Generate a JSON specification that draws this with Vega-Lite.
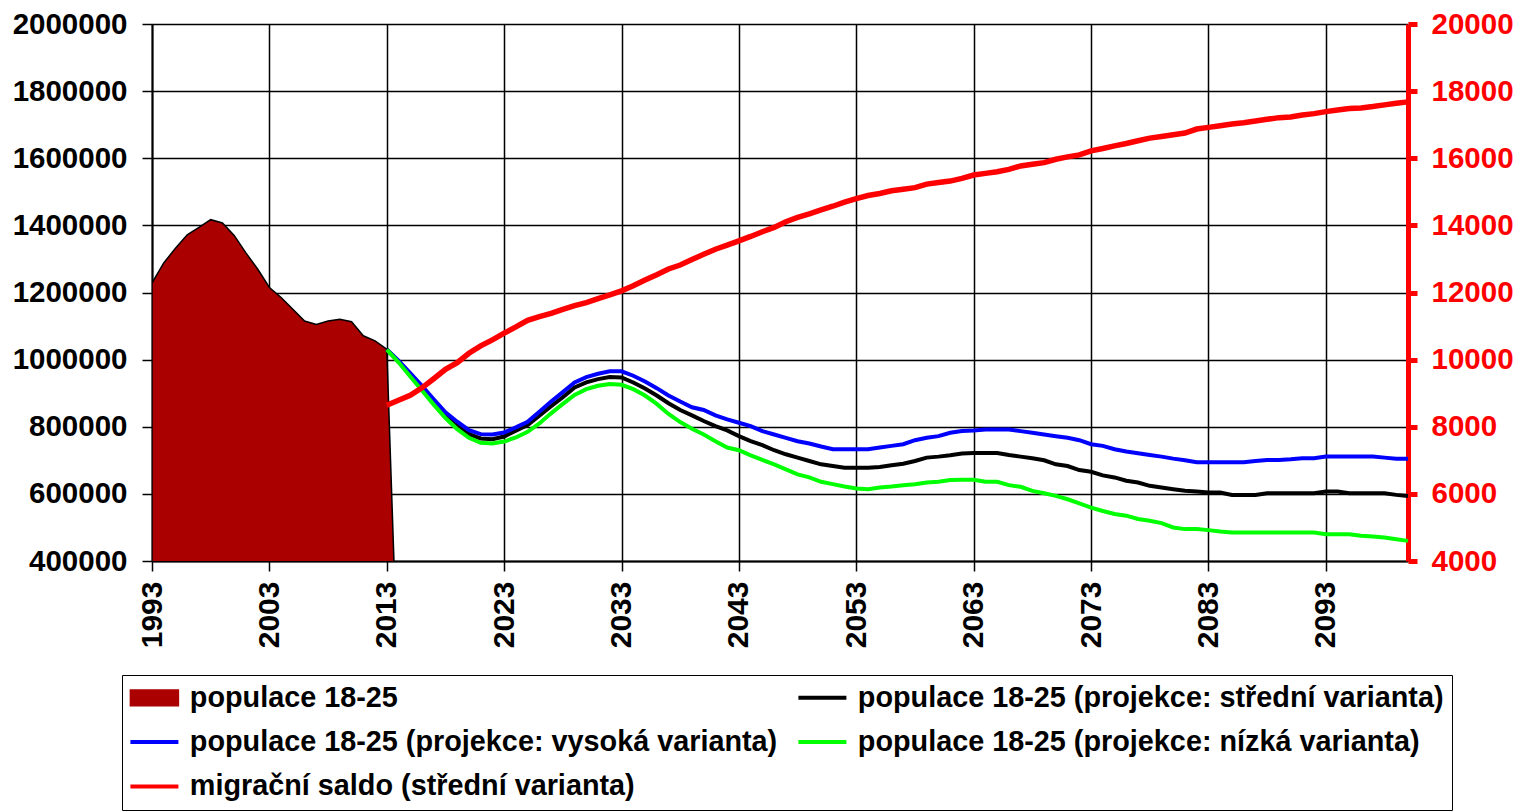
{
  "$schema": "https://vega.github.io/schema/vega-lite/v6.json",
  "width": 1256,
  "height": 537,
  "autosize": {"type": "none"},
  "padding": {"left": 152, "top": 24, "right": 113, "bottom": 250},
  "background": "white",
  "config": {
    "view": {"stroke": null},
    "font": "Liberation Sans",
    "axis": {"labelFont": "Liberation Sans", "labelFontWeight": "bold", "labelColor": "black"}
  },
  "datasets": {
    "area": [
      {"t":1993,"v":1228000},{"t":1994,"v":1288000},{"t":1995,"v":1332000},{"t":1996,"v":1372000},{"t":1997,"v":1394000},
      {"t":1998,"v":1417000},{"t":1999,"v":1407000},{"t":2000,"v":1370000},{"t":2001,"v":1318000},{"t":2002,"v":1270000},
      {"t":2003,"v":1215000},{"t":2004,"v":1185000},{"t":2005,"v":1150000},{"t":2006,"v":1115000},{"t":2007,"v":1105000},
      {"t":2008,"v":1115000},{"t":2009,"v":1120000},{"t":2010,"v":1113000},{"t":2011,"v":1071000},{"t":2012,"v":1056000},
      {"t":2013,"v":1031000},{"t":2014,"v":0}
    ],
    "mid": [
      {"t":2013,"v":1030000},{"t":2014,"v":995000},{"t":2015,"v":957000},{"t":2016,"v":917000},{"t":2017,"v":877000},
      {"t":2018,"v":838000},{"t":2019,"v":808000},{"t":2020,"v":778000},{"t":2021,"v":765000},{"t":2022,"v":763000},
      {"t":2023,"v":771000},{"t":2024,"v":788000},{"t":2025,"v":805000},{"t":2026,"v":833000},{"t":2027,"v":861000},
      {"t":2028,"v":888000},{"t":2029,"v":917000},{"t":2030,"v":932000},{"t":2031,"v":942000},{"t":2032,"v":948000},
      {"t":2033,"v":947000},{"t":2034,"v":932000},{"t":2035,"v":914000},{"t":2036,"v":893000},{"t":2037,"v":870000},
      {"t":2038,"v":850000},{"t":2039,"v":834000},{"t":2040,"v":817000},{"t":2041,"v":802000},{"t":2042,"v":789000},
      {"t":2043,"v":772000},{"t":2044,"v":757000},{"t":2045,"v":745000},{"t":2046,"v":730000},{"t":2047,"v":718000},
      {"t":2048,"v":708000},{"t":2049,"v":698000},{"t":2050,"v":688000},{"t":2051,"v":683000},{"t":2052,"v":678000},
      {"t":2053,"v":678000},{"t":2054,"v":678000},{"t":2055,"v":680000},{"t":2056,"v":685000},{"t":2057,"v":690000},
      {"t":2058,"v":698000},{"t":2059,"v":708000},{"t":2060,"v":711000},{"t":2061,"v":715000},{"t":2062,"v":720000},
      {"t":2063,"v":722000},{"t":2064,"v":722000},{"t":2065,"v":722000},{"t":2066,"v":716000},{"t":2067,"v":711000},
      {"t":2068,"v":706000},{"t":2069,"v":700000},{"t":2070,"v":688000},{"t":2071,"v":683000},{"t":2072,"v":671000},
      {"t":2073,"v":666000},{"t":2074,"v":655000},{"t":2075,"v":649000},{"t":2076,"v":639000},{"t":2077,"v":634000},
      {"t":2078,"v":624000},{"t":2079,"v":619000},{"t":2080,"v":614000},{"t":2081,"v":609000},{"t":2082,"v":607000},
      {"t":2083,"v":604000},{"t":2084,"v":604000},{"t":2085,"v":597000},{"t":2086,"v":597000},{"t":2087,"v":597000},
      {"t":2088,"v":602000},{"t":2089,"v":602000},{"t":2090,"v":602000},{"t":2091,"v":602000},{"t":2092,"v":602000},
      {"t":2093,"v":607000},{"t":2094,"v":607000},{"t":2095,"v":602000},{"t":2096,"v":602000},{"t":2097,"v":602000},
      {"t":2098,"v":602000},{"t":2099,"v":597000},{"t":2100,"v":594000}
    ],
    "high": [
      {"t":2013,"v":1030000},{"t":2014,"v":997000},{"t":2015,"v":960000},{"t":2016,"v":922000},{"t":2017,"v":882000},
      {"t":2018,"v":843000},{"t":2019,"v":815000},{"t":2020,"v":790000},{"t":2021,"v":778000},{"t":2022,"v":777000},
      {"t":2023,"v":783000},{"t":2024,"v":798000},{"t":2025,"v":815000},{"t":2026,"v":845000},{"t":2027,"v":875000},
      {"t":2028,"v":903000},{"t":2029,"v":932000},{"t":2030,"v":948000},{"t":2031,"v":958000},{"t":2032,"v":965000},
      {"t":2033,"v":965000},{"t":2034,"v":952000},{"t":2035,"v":935000},{"t":2036,"v":915000},{"t":2037,"v":893000},
      {"t":2038,"v":875000},{"t":2039,"v":858000},{"t":2040,"v":850000},{"t":2041,"v":834000},{"t":2042,"v":822000},
      {"t":2043,"v":812000},{"t":2044,"v":802000},{"t":2045,"v":787000},{"t":2046,"v":777000},{"t":2047,"v":767000},
      {"t":2048,"v":757000},{"t":2049,"v":750000},{"t":2050,"v":741000},{"t":2051,"v":733000},{"t":2052,"v":733000},
      {"t":2053,"v":733000},{"t":2054,"v":733000},{"t":2055,"v":738000},{"t":2056,"v":743000},{"t":2057,"v":748000},
      {"t":2058,"v":760000},{"t":2059,"v":767000},{"t":2060,"v":772000},{"t":2061,"v":782000},{"t":2062,"v":787000},
      {"t":2063,"v":789000},{"t":2064,"v":792000},{"t":2065,"v":792000},{"t":2066,"v":792000},{"t":2067,"v":787000},
      {"t":2068,"v":782000},{"t":2069,"v":777000},{"t":2070,"v":772000},{"t":2071,"v":767000},{"t":2072,"v":760000},
      {"t":2073,"v":748000},{"t":2074,"v":743000},{"t":2075,"v":733000},{"t":2076,"v":726000},{"t":2077,"v":721000},
      {"t":2078,"v":716000},{"t":2079,"v":711000},{"t":2080,"v":705000},{"t":2081,"v":700000},{"t":2082,"v":694000},
      {"t":2083,"v":694000},{"t":2084,"v":694000},{"t":2085,"v":694000},{"t":2086,"v":694000},{"t":2087,"v":698000},
      {"t":2088,"v":701000},{"t":2089,"v":701000},{"t":2090,"v":703000},{"t":2091,"v":706000},{"t":2092,"v":706000},
      {"t":2093,"v":711000},{"t":2094,"v":711000},{"t":2095,"v":711000},{"t":2096,"v":711000},{"t":2097,"v":711000},
      {"t":2098,"v":708000},{"t":2099,"v":705000},{"t":2100,"v":705000}
    ],
    "low": [
      {"t":2013,"v":1030000},{"t":2014,"v":992000},{"t":2015,"v":950000},{"t":2016,"v":908000},{"t":2017,"v":866000},
      {"t":2018,"v":826000},{"t":2019,"v":793000},{"t":2020,"v":767000},{"t":2021,"v":752000},{"t":2022,"v":750000},
      {"t":2023,"v":756000},{"t":2024,"v":768000},{"t":2025,"v":785000},{"t":2026,"v":810000},{"t":2027,"v":840000},
      {"t":2028,"v":868000},{"t":2029,"v":895000},{"t":2030,"v":912000},{"t":2031,"v":922000},{"t":2032,"v":927000},
      {"t":2033,"v":925000},{"t":2034,"v":912000},{"t":2035,"v":893000},{"t":2036,"v":868000},{"t":2037,"v":838000},
      {"t":2038,"v":814000},{"t":2039,"v":794000},{"t":2040,"v":777000},{"t":2041,"v":757000},{"t":2042,"v":738000},
      {"t":2043,"v":730000},{"t":2044,"v":715000},{"t":2045,"v":701000},{"t":2046,"v":688000},{"t":2047,"v":673000},
      {"t":2048,"v":658000},{"t":2049,"v":649000},{"t":2050,"v":636000},{"t":2051,"v":629000},{"t":2052,"v":622000},
      {"t":2053,"v":616000},{"t":2054,"v":614000},{"t":2055,"v":619000},{"t":2056,"v":622000},{"t":2057,"v":626000},
      {"t":2058,"v":629000},{"t":2059,"v":634000},{"t":2060,"v":636000},{"t":2061,"v":641000},{"t":2062,"v":642000},
      {"t":2063,"v":642000},{"t":2064,"v":636000},{"t":2065,"v":636000},{"t":2066,"v":626000},{"t":2067,"v":621000},
      {"t":2068,"v":609000},{"t":2069,"v":602000},{"t":2070,"v":594000},{"t":2071,"v":584000},{"t":2072,"v":572000},
      {"t":2073,"v":559000},{"t":2074,"v":549000},{"t":2075,"v":540000},{"t":2076,"v":535000},{"t":2077,"v":525000},
      {"t":2078,"v":520000},{"t":2079,"v":513000},{"t":2080,"v":500000},{"t":2081,"v":495000},{"t":2082,"v":495000},
      {"t":2083,"v":492000},{"t":2084,"v":488000},{"t":2085,"v":485000},{"t":2086,"v":485000},{"t":2087,"v":485000},
      {"t":2088,"v":485000},{"t":2089,"v":485000},{"t":2090,"v":485000},{"t":2091,"v":485000},{"t":2092,"v":485000},
      {"t":2093,"v":480000},{"t":2094,"v":480000},{"t":2095,"v":480000},{"t":2096,"v":475000},{"t":2097,"v":473000},
      {"t":2098,"v":470000},{"t":2099,"v":465000},{"t":2100,"v":460000}
    ],
    "mig": [
      {"t":2013,"v":8640},{"t":2014,"v":8790},{"t":2015,"v":8935},{"t":2016,"v":9160},{"t":2017,"v":9430},
      {"t":2018,"v":9710},{"t":2019,"v":9910},{"t":2020,"v":10190},{"t":2021,"v":10410},{"t":2022,"v":10590},
      {"t":2023,"v":10790},{"t":2024,"v":10975},{"t":2025,"v":11170},{"t":2026,"v":11280},{"t":2027,"v":11380},
      {"t":2028,"v":11500},{"t":2029,"v":11610},{"t":2030,"v":11700},{"t":2031,"v":11820},{"t":2032,"v":11930},
      {"t":2033,"v":12050},{"t":2034,"v":12200},{"t":2035,"v":12370},{"t":2036,"v":12530},{"t":2037,"v":12700},
      {"t":2038,"v":12820},{"t":2039,"v":12980},{"t":2040,"v":13140},{"t":2041,"v":13290},{"t":2042,"v":13410},
      {"t":2043,"v":13540},{"t":2044,"v":13670},{"t":2045,"v":13810},{"t":2046,"v":13940},{"t":2047,"v":14110},
      {"t":2048,"v":14240},{"t":2049,"v":14340},{"t":2050,"v":14460},{"t":2051,"v":14570},{"t":2052,"v":14690},
      {"t":2053,"v":14800},{"t":2054,"v":14890},{"t":2055,"v":14950},{"t":2056,"v":15030},{"t":2057,"v":15075},
      {"t":2058,"v":15125},{"t":2059,"v":15230},{"t":2060,"v":15275},{"t":2061,"v":15320},{"t":2062,"v":15400},
      {"t":2063,"v":15500},{"t":2064,"v":15550},{"t":2065,"v":15600},{"t":2066,"v":15670},{"t":2067,"v":15770},
      {"t":2068,"v":15820},{"t":2069,"v":15870},{"t":2070,"v":15970},{"t":2071,"v":16040},{"t":2072,"v":16100},
      {"t":2073,"v":16220},{"t":2074,"v":16290},{"t":2075,"v":16370},{"t":2076,"v":16440},{"t":2077,"v":16520},
      {"t":2078,"v":16600},{"t":2079,"v":16650},{"t":2080,"v":16700},{"t":2081,"v":16750},{"t":2082,"v":16870},
      {"t":2083,"v":16920},{"t":2084,"v":16970},{"t":2085,"v":17020},{"t":2086,"v":17060},{"t":2087,"v":17110},
      {"t":2088,"v":17160},{"t":2089,"v":17210},{"t":2090,"v":17230},{"t":2091,"v":17290},{"t":2092,"v":17330},
      {"t":2093,"v":17390},{"t":2094,"v":17440},{"t":2095,"v":17480},{"t":2096,"v":17500},{"t":2097,"v":17540},
      {"t":2098,"v":17590},{"t":2099,"v":17640},{"t":2100,"v":17680}
    ]
  },
  "encoding": {
    "x": {
      "field": "t", "type": "quantitative",
      "scale": {"domain": [1993, 2100], "nice": false, "zero": false},
      "axis": {
        "title": null,
        "values": [1993, 2003, 2013, 2023, 2033, 2043, 2053, 2063, 2073, 2083, 2093],
        "format": "d", "labelAngle": -90, "labelFontSize": 30, "labelFlush": false,
        "labelPadding": 10, "labelOverlap": false,
        "grid": true, "gridColor": "black", "gridWidth": 1.5, "gridOpacity": 1,
        "tickColor": "black", "tickSize": 10, "tickWidth": 1.5,
        "domainColor": "black", "domainWidth": 2
      }
    },
    "color": {
      "scale": {
        "domain": [
          "populace 18-25",
          "populace 18-25 (projekce: střední varianta)",
          "populace 18-25 (projekce: vysoká varianta)",
          "populace 18-25 (projekce: nízká varianta)",
          "migrační saldo (střední varianta)"
        ],
        "range": ["#aa0000", "#000000", "#0000ff", "#00ff00", "#ff0000"]
      },
      "legend": {
        "title": null,
        "orient": "none", "legendX": -30, "legendY": 651,
        "columns": 2, "direction": "horizontal",
        "labelFont": "Liberation Sans", "labelFontSize": 28.8, "labelFontWeight": "bold", "labelColor": "black",
        "labelLimit": 1000, "labelOffset": 21, "symbolOffset": 10,
        "symbolType": "stroke", "symbolSize": 2304, "symbolStrokeWidth": 4,
        "strokeColor": "black", "padding": 8, "rowPadding": 14.5, "columnPadding": 12,
        "encode": {
          "symbols": {
            "update": {
              "shape": {"signal": "datum.value === 'populace 18-25' ? 'M-1,-0.33H1V0.33H-1Z' : 'stroke'"},
              "fill": {"signal": "datum.value === 'populace 18-25' ? '#aa0000' : 'transparent'"},
              "stroke": {"signal": "datum.value === 'populace 18-25' ? 'black' : scale('color', datum.value)"},
              "strokeWidth": {"signal": "datum.value === 'populace 18-25' ? 1.5 : 4"},
              "opacity": {"value": 1}
            }
          }
        }
      }
    }
  },
  "layer": [
    {
      "encoding": {
        "y": {
          "field": "v", "type": "quantitative",
          "scale": {"domain": [400000, 2000000], "nice": false, "zero": false},
          "axis": {
            "title": null,
            "values": [400000, 600000, 800000, 1000000, 1200000, 1400000, 1600000, 1800000, 2000000],
            "format": "d", "labelFontSize": 29.5, "labelPadding": 15,
            "grid": true, "gridColor": "black", "gridWidth": 1.5, "gridOpacity": 1,
            "tickColor": "black", "tickSize": 10, "tickWidth": 1.5,
            "domainColor": "black", "domainWidth": 2
          }
        }
      },
      "layer": [
        {
          "data": {"name": "area"},
          "mark": {"type": "area", "clip": true, "stroke": "black", "strokeWidth": 1.5, "fillOpacity": 1},
          "encoding": {"color": {"datum": "populace 18-25"}}
        },
        {
          "data": {"name": "mid"},
          "mark": {"type": "line", "strokeWidth": 4},
          "encoding": {"color": {"datum": "populace 18-25 (projekce: střední varianta)"}}
        },
        {
          "data": {"name": "high"},
          "mark": {"type": "line", "strokeWidth": 4},
          "encoding": {"color": {"datum": "populace 18-25 (projekce: vysoká varianta)"}}
        },
        {
          "data": {"name": "low"},
          "mark": {"type": "line", "strokeWidth": 4},
          "encoding": {"color": {"datum": "populace 18-25 (projekce: nízká varianta)"}}
        }
      ]
    },
    {
      "data": {"name": "mig"},
      "mark": {"type": "line", "strokeWidth": 5.5},
      "encoding": {
        "y": {
          "field": "v", "type": "quantitative",
          "scale": {"domain": [4000, 20000], "nice": false, "zero": false},
          "axis": {
            "title": null, "orient": "right",
            "values": [4000, 6000, 8000, 10000, 12000, 14000, 16000, 18000, 20000],
            "format": "d", "labelFontSize": 29.5, "labelPadding": 14, "labelColor": "#ff0000",
            "grid": false,
            "tickColor": "#ff0000", "tickSize": 9, "tickWidth": 5,
            "domainColor": "#ff0000", "domainWidth": 5
          }
        },
        "color": {"datum": "migrační saldo (střední varianta)"}
      }
    }
  ],
  "resolve": {"scale": {"y": "independent"}}
}
